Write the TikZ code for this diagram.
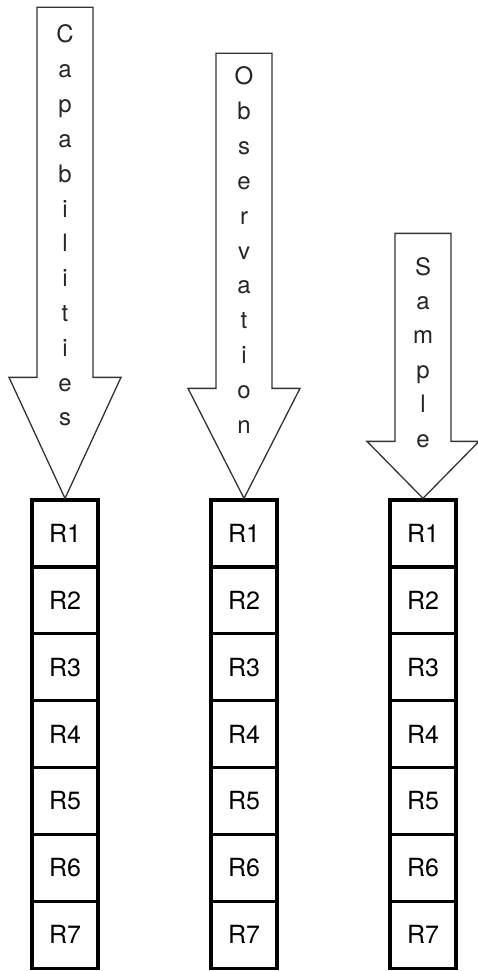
\documentclass[tikz,border=0pt]{standalone}
\usepackage{fontspec}
\setmainfont{TeX Gyre Heros}

\begin{document}
\begin{tikzpicture}[x=1pt,y=-1pt]
\tikzset{ cell/.style={draw, line width=3.2pt, minimum width=66pt, minimum height=67pt,
                       inner sep=0pt, font=\fontsize{25}{28}\selectfont},
          letter/.style={anchor=base, inner sep=0pt, text=black!85, font=\fontsize{24}{28}\selectfont},
          blockarrow/.style={draw=black!80, line width=1.3pt, line join=miter} }

\useasboundingbox (0,0) rectangle (478,971);

% the three register columns
\foreach \col/\x in {cap/65, obs/244, smp/423}
  \foreach \i in {1,...,7}
    \node [cell] (\col\i) at (\x, 500+66.9*\i-33.45) {R\i};

% block arrows down onto the first register
\draw [blockarrow] (cap1.north) -- ++(-56,-121) -- ++(28,0) -- ++(0,-370)
                   -- ++(56,0) -- ++(0,370) -- ++(28,0) -- cycle;
\draw [blockarrow] (obs1.north) -- ++(-56,-110) -- ++(28,0) -- ++(0,-335)
                   -- ++(56,0) -- ++(0,335) -- ++(28,0) -- cycle;
\draw [blockarrow] (smp1.north) -- ++(-56,-57) -- ++(28,0) -- ++(0,-208)
                   -- ++(56,0) -- ++(0,208) -- ++(28,0) -- cycle;

% stacked labels
\foreach \ch [count=\k from 0] in {C,a,p,a,b,i,l,i,t,i,e,s}
  \node [letter] (cap-l\k) at (65, 43+34.8*\k) {\ch};
\foreach \ch [count=\k from 0] in {O,b,s,e,r,v,a,t,i,o,n}
  \node [letter] (obs-l\k) at (244, 85+34.8*\k) {\ch};
\foreach \ch [count=\k from 0] in {S,a,m,p,l,e}
  \node [letter] (smp-l\k) at (423, 275+34.4*\k) {\ch};

\end{tikzpicture}
\end{document}
